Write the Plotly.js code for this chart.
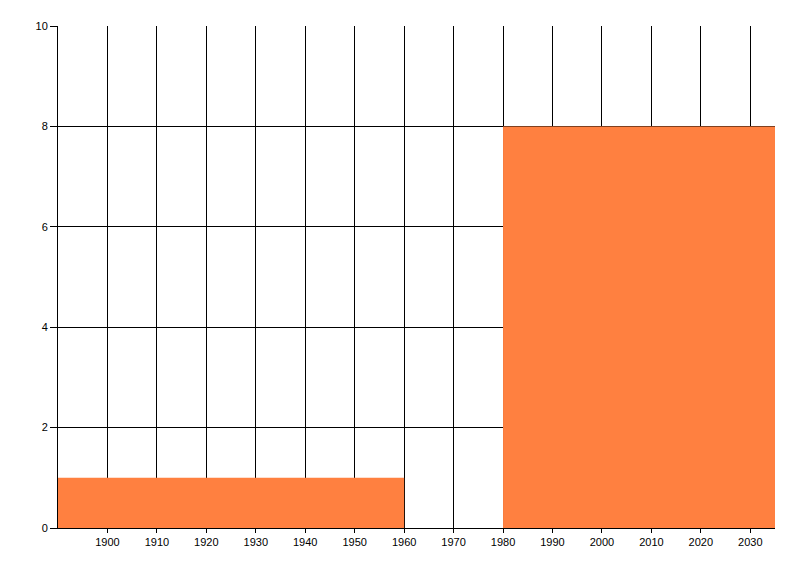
<!DOCTYPE html>
<html><head><meta charset="utf-8">
<script src="https://cdn.plot.ly/plotly-3.0.1.min.js"></script>
<style>html,body{margin:0;padding:0;background:#fff}#c{width:800px;height:576px}</style>
</head><body><div id="c"></div>
<script>
const periodStart = [1890, 1980];
const periodEnd = [1960, 2035];
const values = [1, 8];
const xTicks = [1900,1910,1920,1930,1940,1950,1960,1970,1980,1990,2000,2010,2020,2030];
const yTicks = [0,2,4,6,8,10];

const trace = {
  type: 'bar',
  x: periodStart.map((s,i)=> (s+periodEnd[i])/2),
  width: periodStart.map((s,i)=> periodEnd[i]-s),
  y: values,
  marker: {color: '#FF8040', line: {width: 0}},
  hoverinfo: 'skip'
};
const font = {family: 'Liberation Sans, Arial, sans-serif', size: 11, color: '#000'};
const layout = {
  width: 800, height: 576,
  margin: {l: 58, r: 25, t: 26, b: 48},
  paper_bgcolor: '#fff', plot_bgcolor: '#fff',
  showlegend: false,
  font: font,
  xaxis: {
    range: [1890, 2035], tickvals: xTicks, ticktext: xTicks.map(String),
    showgrid: true, gridcolor: '#000', gridwidth: 1,
    showline: true, linecolor: '#000', linewidth: 1,
    ticks: 'outside', ticklen: 4, tickcolor: '#000', zeroline: false,
    fixedrange: true
  },
  yaxis: {
    range: [0, 10], tickvals: yTicks, ticktext: yTicks.map(String),
    showgrid: true, gridcolor: '#000', gridwidth: 1,
    showline: true, linecolor: '#000', linewidth: 1,
    ticks: 'outside', ticklen: 7, tickcolor: '#000', zeroline: false,
    fixedrange: true
  }
};
Plotly.newPlot('c', [trace], layout, {staticPlot: true});
</script></body></html>
